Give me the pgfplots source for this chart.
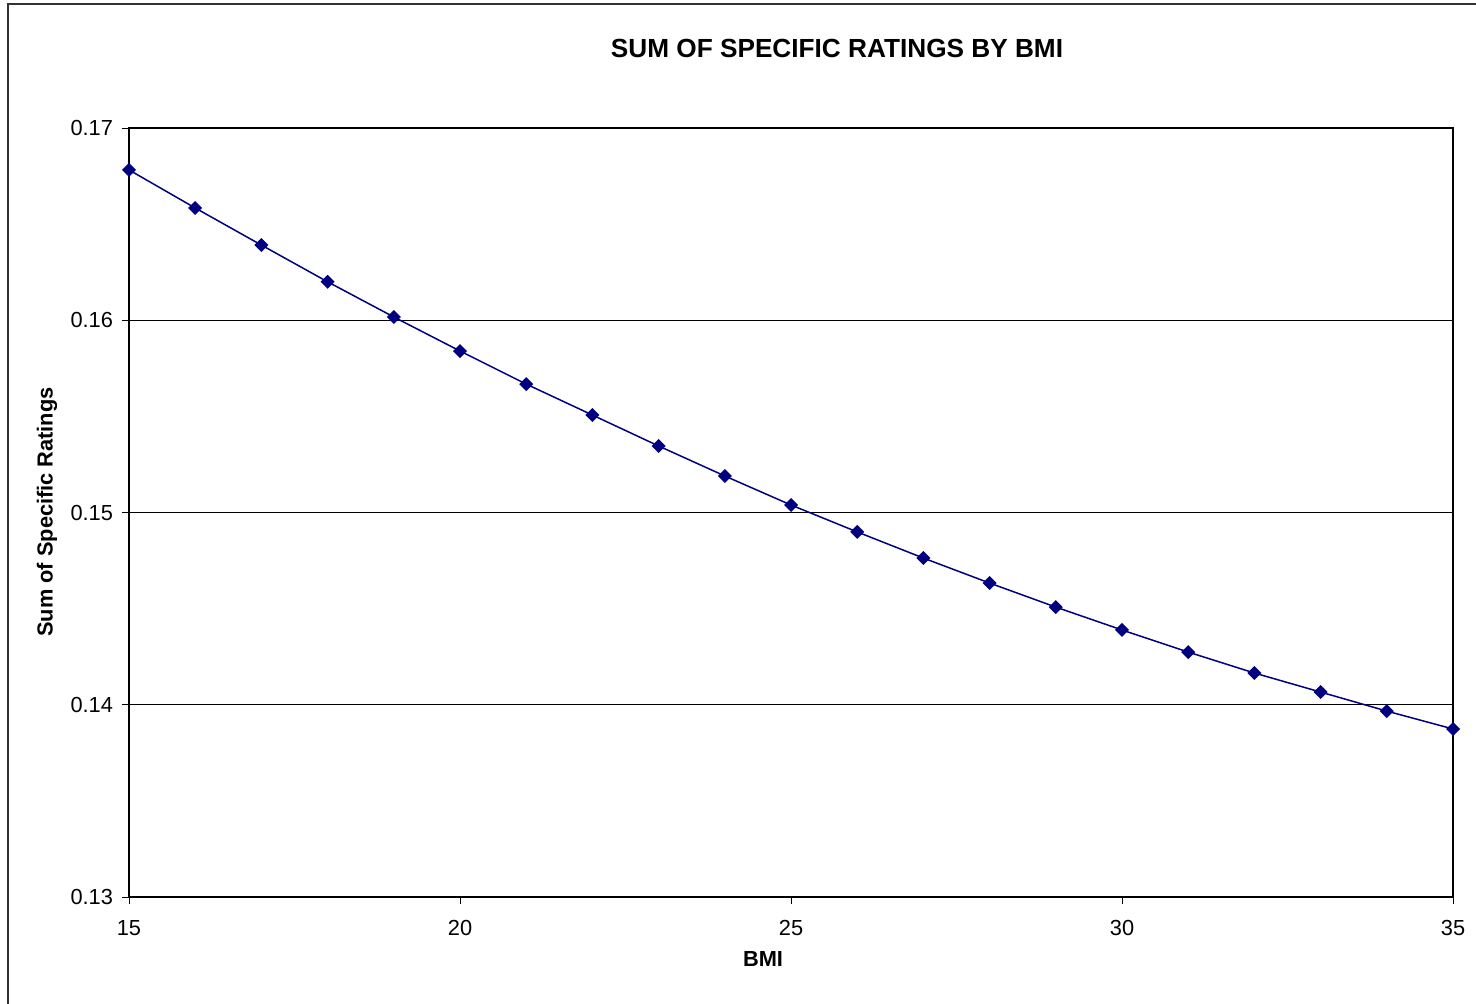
\documentclass[border=0pt]{standalone}
\usepackage{pgfplots}
\pgfplotsset{compat=1.18}
\usepackage{fontspec}
\setmainfont{Liberation Sans}
\definecolor{navyline}{RGB}{0,0,128}
\begin{document}
\begin{tikzpicture}[x=1pt,y=1pt]
\useasboundingbox (0,0) rectangle (738,501.5);
\draw[line width=0.8pt, black!80] (4,-20) rectangle (760,499.5);
\node[font=\bfseries\fontsize{13.1}{15}\selectfont] at (418.5,477.5) {SUM OF SPECIFIC RATINGS BY BMI};
\node[font=\bfseries\fontsize{10.9}{13}\selectfont] at (381.5,22) {BMI};
\node[font=\bfseries\fontsize{10.9}{13}\selectfont, rotate=90] at (23.5,245.5) {Sum of Specific Ratings};
\begin{axis}[
  at={(64.5pt,53pt)}, anchor=south west,
  scale only axis, width=662pt, height=384.5pt,
  xmin=15, xmax=35, ymin=0.13, ymax=0.17,
  xtick={15,20,25,30,35},
  ytick={0.13,0.14,0.15,0.16,0.17},
  xtick pos=bottom, ytick pos=left,
  tick align=outside, major tick length=3.5pt,
  tick style={black, line width=0.5pt},
  axis line style={black, line width=0.6pt},
  ymajorgrids, grid style={black, line width=0.5pt},
  /pgf/number format/assume math mode=true,
  yticklabel style={/pgf/number format/fixed, /pgf/number format/precision=2, /pgf/number format/fixed zerofill, xshift=-1pt},
  xticklabel style={yshift=-4.5pt},
  scaled y ticks=false,
  ticklabel style={font=\fontsize{10.9}{13}\selectfont},
]
\addplot[color=navyline, line width=0.75pt, mark=square*, mark size=2.1pt, mark options={fill=navyline, rotate=45}] coordinates {
(15,0.16782) (16,0.16584) (17,0.16391) (18,0.16200) (19,0.16017)
(20,0.15840) (21,0.15668) (22,0.15507) (23,0.15346) (24,0.15190)
(25,0.15039) (26,0.14899) (27,0.14763) (28,0.14633) (29,0.14508)
(30,0.14389) (31,0.14274) (32,0.14165) (33,0.14066) (34,0.13967)
(35,0.13874)
};
\end{axis}
\end{tikzpicture}
\end{document}
